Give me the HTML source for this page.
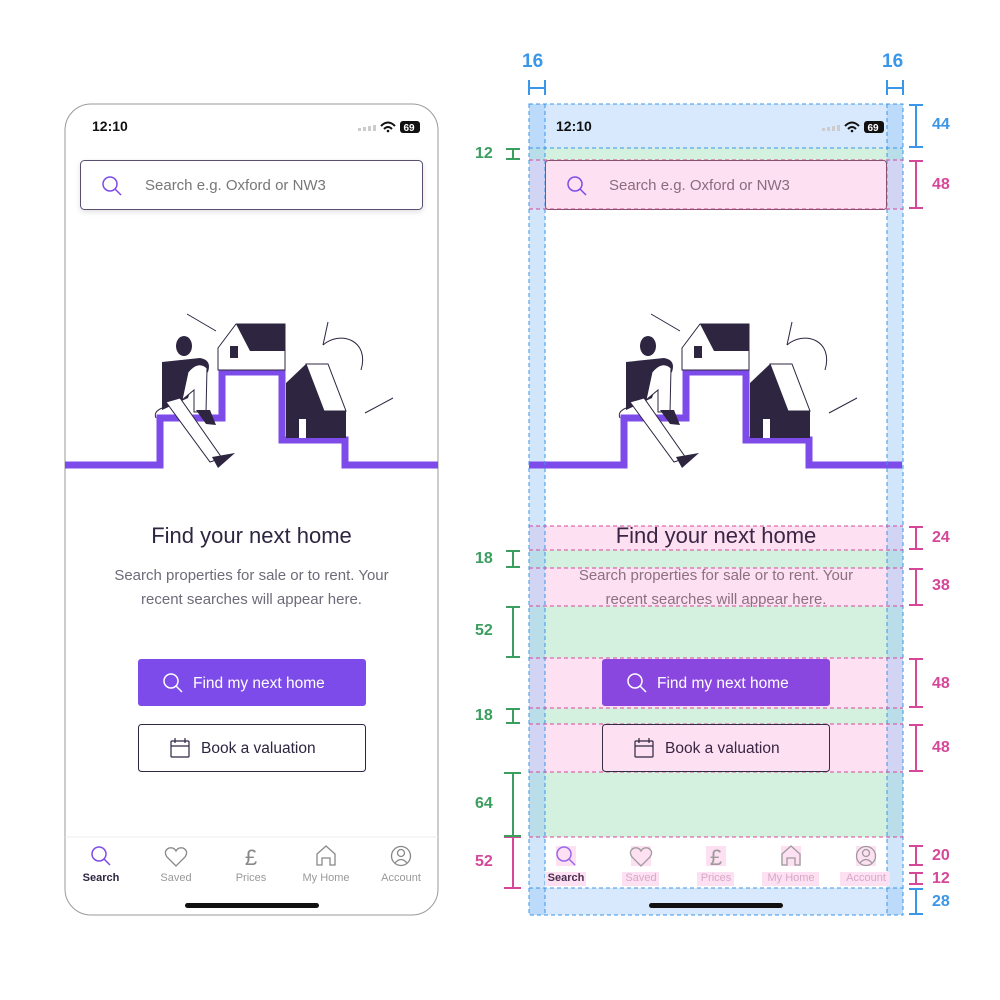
<!DOCTYPE html>
<html><head><meta charset="utf-8"><style>
body{margin:0;width:1000px;height:1000px;background:#fff;position:relative;overflow:hidden;font-family:"Liberation Sans",sans-serif;}
.a{position:absolute;}
.t{position:absolute;white-space:nowrap;}
</style></head><body>
<svg class="a" style="left:0;top:0" width="1000" height="1000" viewBox="0 0 1000 1000">
<defs>
<filter id="sh" x="-10%" y="-30%" width="120%" height="180%"><feDropShadow dx="0" dy="2" stdDeviation="3" flood-color="#000" flood-opacity="0.12"/></filter>
<g id="illus">
  <polyline points="65,465 160,465 160,418 222,418 222,372 282,372 282,440 345,440 345,465 438,465" fill="none" stroke="#7d4bea" stroke-width="7"/>
  <polygon points="218,348 236,324 285,324 285,370 218,370" fill="#fff" stroke="#2e2540" stroke-width="1"/>
  <polygon points="236,324 285,324 285,351 250,351" fill="#2e2540"/>
  <rect x="230" y="346" width="8" height="12" fill="#2e2540"/>
  <polygon points="286,383 306,364 346,411 346,438 286,438" fill="#2e2540"/>
  <polygon points="306,364 328,364 346,411 324,411" fill="#fff" stroke="#2e2540" stroke-width="1"/>
  <rect x="299" y="419" width="7" height="19" fill="#fff"/>
  <line x1="187" y1="314" x2="216" y2="331" stroke="#2e2540" stroke-width="1"/>
  <line x1="365" y1="413" x2="393" y2="398" stroke="#2e2540" stroke-width="1"/>
  <line x1="328" y1="322" x2="323" y2="345" stroke="#2e2540" stroke-width="1"/>
  <path d="M323,345 C340,330 370,340 361,370" fill="none" stroke="#2e2540" stroke-width="1"/>
  <ellipse cx="184" cy="346" rx="8" ry="10" fill="#2e2540"/>
  <path d="M162,362 L200,358 Q212,360 208,372 L192,386 L188,398 L162,410 Z" fill="#2e2540"/>
  <path d="M188,372 Q198,360 207,368 L206,412 L194,412 L194,390 L182,400 Z" fill="#fff" stroke="#2e2540" stroke-width="1"/>
  <path d="M166,402 L180,398 L222,458 L210,462 Z" fill="#fff" stroke="#2e2540" stroke-width="1"/>
  <path d="M196,410 L210,410 L216,425 L206,424 Z" fill="#2e2540"/>
  <path d="M212,457 L235,453 L218,468 Z" fill="#2e2540"/>
  <path d="M162,408 Q153,412 156,418" fill="none" stroke="#2e2540" stroke-width="1"/>
</g>
<g id="srch"><circle cx="0" cy="0" r="7" fill="none" stroke-width="1.5"/><line x1="5" y1="5" x2="11" y2="11" stroke-width="1.5"/></g>
</defs>

<rect x="65" y="104" width="373" height="811" rx="26" fill="#fff" stroke="#9a9a9a" stroke-width="1"/>
<use href="#illus"/>
<line x1="65" y1="837" x2="438" y2="837" stroke="#eeeeee"/>

<rect x="529" y="104" width="374" height="44" fill="#d8e9fd"/>
<rect x="529" y="148" width="374" height="12" fill="#d4f0df"/>
<rect x="529" y="160" width="374" height="49" fill="#fde0f1"/>
<rect x="529" y="526" width="374" height="24" fill="#fde0f1"/>
<rect x="529" y="550" width="374" height="18" fill="#d4f0df"/>
<rect x="529" y="568" width="374" height="38" fill="#fde0f1"/>
<rect x="529" y="606" width="374" height="52" fill="#d4f0df"/>
<rect x="529" y="658" width="374" height="50" fill="#fde0f1"/>
<rect x="529" y="708" width="374" height="16" fill="#d4f0df"/>
<rect x="529" y="724" width="374" height="48" fill="#fde0f1"/>
<rect x="529" y="772" width="374" height="65" fill="#d4f0df"/>
<rect x="529" y="888" width="374" height="27" fill="#d8e9fd"/>
<rect x="529" y="104" width="16" height="811" fill="#9cc8f7" opacity="0.45"/>
<rect x="887" y="104" width="16" height="811" fill="#9cc8f7" opacity="0.45"/>
<g transform="translate(464,0)"><use href="#illus"/></g>
<g fill="none" stroke="#3a96e8" stroke-width="1" stroke-dasharray="4,3">
  <rect x="529" y="104" width="374" height="811"/>
  <line x1="545" y1="104" x2="545" y2="915"/><line x1="887" y1="104" x2="887" y2="915"/>
  <line x1="529" y1="148" x2="903" y2="148"/><line x1="529" y1="888" x2="903" y2="888"/>
</g>
<g fill="none" stroke="#d6479a" stroke-width="1" stroke-dasharray="4,3">
  <line x1="529" y1="160" x2="903" y2="160"/><line x1="529" y1="209" x2="903" y2="209"/>
  <line x1="529" y1="526" x2="903" y2="526"/><line x1="529" y1="550" x2="903" y2="550"/>
  <line x1="529" y1="568" x2="903" y2="568"/><line x1="529" y1="606" x2="903" y2="606"/>
  <line x1="529" y1="658" x2="903" y2="658"/><line x1="529" y1="708" x2="903" y2="708"/>
  <line x1="529" y1="724" x2="903" y2="724"/><line x1="529" y1="772" x2="903" y2="772"/>
  <line x1="529" y1="837" x2="903" y2="837"/>
</g>
<g fill="#fde0f1"><rect x="556" y="846" width="20" height="20"/><rect x="631" y="846" width="20" height="20"/><rect x="706" y="846" width="20" height="20"/><rect x="781" y="846" width="20" height="20"/><rect x="856" y="846" width="20" height="20"/>
<rect x="545" y="872" width="41" height="14"/><rect x="622" y="872" width="37" height="14"/><rect x="697" y="872" width="37" height="14"/><rect x="762" y="872" width="57" height="14"/><rect x="840" y="872" width="50" height="14"/></g>

<g id="nav">
<use href="#srch" x="99" y="854" stroke="#7d4bea"/>
<path d="M176,866 L167,857 Q163,851 169,848 Q174,847 176,851 Q178,847 183,848 Q189,851 185,857 Z" fill="none" stroke="#888" stroke-width="1.3"/>
<text x="251" y="865" text-anchor="middle" font-size="22" fill="#888" font-family="Liberation Sans">£</text>
<path d="M317,865 L317,854 L326,846 L335,854 L335,865 L330,865 L330,858 L322,858 L322,865 Z" fill="none" stroke="#888" stroke-width="1.3"/>
<circle cx="401" cy="856" r="9.5" fill="none" stroke="#888" stroke-width="1.3"/><circle cx="401" cy="853" r="3.5" fill="none" stroke="#888" stroke-width="1.3"/><path d="M395,863 Q401,856 407,863" fill="none" stroke="#888" stroke-width="1.3"/>
</g>
<g transform="translate(465,0)" opacity="0.8"><use href="#nav"/></g>

<rect x="80.5" y="160.5" width="342" height="49" rx="4" fill="#fff" stroke="#5a5070" filter="url(#sh)"/>
<rect x="545.5" y="160.5" width="341" height="49" rx="3" fill="none" stroke="#8a5070"/>
<use href="#srch" x="110" y="184" stroke="#7d4bea"/>
<use href="#srch" x="575" y="184" stroke="#7d4bea"/>

<rect x="138" y="659" width="228" height="47" rx="3" fill="#7d4bea"/>
<rect x="138.5" y="724.5" width="227" height="47" rx="3" fill="none" stroke="#2e2540"/>
<rect x="602" y="659" width="228" height="47" rx="3" fill="#8a47e0"/>
<rect x="602.5" y="724.5" width="227" height="47" rx="3" fill="none" stroke="#3a2b45"/>
<use href="#srch" x="171" y="681" stroke="#fff"/>
<use href="#srch" x="635" y="681" stroke="#fff"/>
<g fill="none" stroke="#2e2540" stroke-width="1.2">
<rect x="171" y="741" width="18" height="16" rx="1"/><line x1="171" y1="746" x2="189" y2="746"/><line x1="175" y1="738" x2="175" y2="743"/><line x1="185" y1="738" x2="185" y2="743"/>
<rect x="635" y="741" width="18" height="16" rx="1"/><line x1="635" y1="746" x2="653" y2="746"/><line x1="639" y1="738" x2="639" y2="743"/><line x1="649" y1="738" x2="649" y2="743"/>
</g>

<rect x="185" y="903" width="134" height="5" rx="2.5" fill="#111"/>
<rect x="649" y="903" width="134" height="5" rx="2.5" fill="#111"/>

<g id="st">
<rect x="358" y="128" width="3" height="3" fill="#ccc"/><rect x="363" y="127" width="3" height="4" fill="#ccc"/><rect x="368" y="126" width="3" height="5" fill="#ccc"/><rect x="373" y="125" width="3" height="6" fill="#ccc"/>
<path d="M381,126 Q388,119 395,126" fill="none" stroke="#111" stroke-width="2"/><path d="M384,129 Q388,125 392,129" fill="none" stroke="#111" stroke-width="2"/><circle cx="388" cy="131" r="1.3" fill="#111"/>
<rect x="400" y="121" width="20" height="12" rx="3" fill="#111"/>
<text x="409" y="131" text-anchor="middle" font-size="10" font-weight="bold" fill="#fff">69</text>
</g>
<g transform="translate(464,0)"><use href="#st"/></g>

<g stroke="#3a96e8" stroke-width="2" fill="none">
<path d="M529,80 V95 M545,80 V95 M529,88 H545"/>
<path d="M887,80 V95 M903,80 V95 M887,88 H903"/>
<path d="M909,105 H923 M916,105 V147 M909,147 H923"/>
<path d="M909,889 H923 M916,889 V914 M909,914 H923"/>
</g>
<g stroke="#d6479a" stroke-width="2" fill="none">
<path d="M909,161 H923 M916,161 V208 M909,208 H923"/>
<path d="M909,527 H923 M916,527 V549 M909,549 H923"/>
<path d="M909,569 H923 M916,569 V605 M909,605 H923"/>
<path d="M909,659 H923 M916,659 V707 M909,707 H923"/>
<path d="M909,725 H923 M916,725 V771 M909,771 H923"/>
<path d="M909,846 H923 M916,846 V865 M909,865 H923"/>
<path d="M909,873 H923 M916,873 V884 M909,884 H923"/>
<path d="M504,837 H521 M513,837 V888 M504,888 H521"/>
</g>
<g stroke="#3a9e5f" stroke-width="2" fill="none">
<path d="M506,149 H520 M513,149 V159 M506,159 H520"/>
<path d="M506,551 H520 M513,551 V567 M506,567 H520"/>
<path d="M506,607 H520 M513,607 V657 M506,657 H520"/>
<path d="M506,709 H520 M513,709 V723 M506,723 H520"/>
<path d="M504,773 H521 M513,773 V836 M504,836 H521"/>
</g>
</svg>

<div class="t" style="left:92px;top:118px;font-size:14px;font-weight:bold;color:#111">12:10</div>
<div class="t" style="left:556px;top:118px;font-size:14px;font-weight:bold;color:#111">12:10</div>
<div class="t" style="left:145px;top:177px;font-size:15px;color:#777">Search e.g. Oxford or NW3</div>
<div class="t" style="left:609px;top:177px;font-size:15px;color:#8a6c80">Search e.g. Oxford or NW3</div>

<div class="t" style="left:65px;width:373px;text-align:center;top:523px;font-size:22px;color:#2e2540">Find your next home</div>
<div class="t" style="left:65px;width:373px;text-align:center;top:564px;font-size:15px;line-height:24px;color:#6d6b78;white-space:normal">Search properties for sale or to rent. Your<br>recent searches will appear here.</div>
<div class="t" style="left:529px;width:374px;text-align:center;top:523px;font-size:22px;color:#3a2545">Find your next home</div>
<div class="t" style="left:529px;width:374px;text-align:center;top:564px;font-size:15px;line-height:24px;color:#8a7080;white-space:normal">Search properties for sale or to rent. Your<br>recent searches will appear here.</div>

<div class="t" style="left:193px;top:675px;font-size:15.5px;color:#fff">Find my next home</div>
<div class="t" style="left:201px;top:740px;font-size:15.5px;color:#2e2540">Book a valuation</div>
<div class="t" style="left:657px;top:675px;font-size:15.5px;color:#fff">Find my next home</div>
<div class="t" style="left:665px;top:740px;font-size:15.5px;color:#3a2545">Book a valuation</div>

<div class="t" style="left:71px;width:60px;text-align:center;top:872px;font-size:11px;font-weight:bold;color:#2e2540">Search</div>
<div class="t" style="left:146px;width:60px;text-align:center;top:872px;font-size:11px;color:#999">Saved</div>
<div class="t" style="left:221px;width:60px;text-align:center;top:872px;font-size:11px;color:#999">Prices</div>
<div class="t" style="left:291px;width:70px;text-align:center;top:872px;font-size:11px;color:#999">My Home</div>
<div class="t" style="left:366px;width:70px;text-align:center;top:872px;font-size:11px;color:#999">Account</div>
<div class="t" style="left:536px;width:60px;text-align:center;top:872px;font-size:11px;font-weight:bold;color:#4a3050">Search</div>
<div class="t" style="left:611px;width:60px;text-align:center;top:872px;font-size:11px;color:#d8a8c8">Saved</div>
<div class="t" style="left:686px;width:60px;text-align:center;top:872px;font-size:11px;color:#d8a8c8">Prices</div>
<div class="t" style="left:756px;width:70px;text-align:center;top:872px;font-size:11px;color:#d8a8c8">My Home</div>
<div class="t" style="left:831px;width:70px;text-align:center;top:872px;font-size:11px;color:#d8a8c8">Account</div>

<div class="t" style="left:522px;top:51px;font-size:19px;font-weight:bold;color:#3a96e8">16</div>
<div class="t" style="left:882px;top:51px;font-size:19px;font-weight:bold;color:#3a96e8">16</div>
<div class="t" style="left:932px;top:116px;font-size:16px;font-weight:bold;color:#3a96e8">44</div>
<div class="t" style="left:932px;top:176px;font-size:16px;font-weight:bold;color:#d6479a">48</div>
<div class="t" style="left:932px;top:529px;font-size:16px;font-weight:bold;color:#d6479a">24</div>
<div class="t" style="left:932px;top:577px;font-size:16px;font-weight:bold;color:#d6479a">38</div>
<div class="t" style="left:932px;top:675px;font-size:16px;font-weight:bold;color:#d6479a">48</div>
<div class="t" style="left:932px;top:739px;font-size:16px;font-weight:bold;color:#d6479a">48</div>
<div class="t" style="left:932px;top:847px;font-size:16px;font-weight:bold;color:#d6479a">20</div>
<div class="t" style="left:932px;top:870px;font-size:16px;font-weight:bold;color:#d6479a">12</div>
<div class="t" style="left:932px;top:893px;font-size:16px;font-weight:bold;color:#3a96e8">28</div>
<div class="t" style="left:475px;top:145px;font-size:16px;font-weight:bold;color:#3a9e5f">12</div>
<div class="t" style="left:475px;top:550px;font-size:16px;font-weight:bold;color:#3a9e5f">18</div>
<div class="t" style="left:475px;top:622px;font-size:16px;font-weight:bold;color:#3a9e5f">52</div>
<div class="t" style="left:475px;top:707px;font-size:16px;font-weight:bold;color:#3a9e5f">18</div>
<div class="t" style="left:475px;top:795px;font-size:16px;font-weight:bold;color:#3a9e5f">64</div>
<div class="t" style="left:475px;top:853px;font-size:16px;font-weight:bold;color:#d6479a">52</div>
</body></html>
